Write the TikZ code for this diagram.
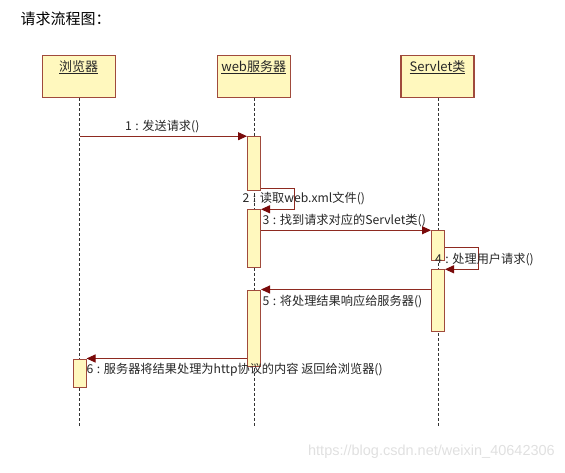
\documentclass[tikz,border=0pt]{standalone}
\usepackage{fontspec}
\setmainfont{Noto Sans CJK SC}
\newfontfamily\wmfont{Liberation Sans}
\usetikzlibrary{arrows.meta}
\definecolor{boxfill}{HTML}{FFF8BE}
\definecolor{boxline}{HTML}{A04A3C}
\definecolor{msgcol}{HTML}{8E2A20}
\definecolor{tipcol}{HTML}{7A0A0A}
\newcommand{\sepc}{\hspace{3.5pt}:\hspace{3.5pt}}
\begin{document}
\begin{tikzpicture}[x=1pt,y=-1pt,
  headbox/.style={draw=boxline, fill=boxfill, line width=1.2pt, minimum width=73pt, minimum height=41.6pt, inner sep=0pt},
  actbox/.style={draw=boxline, fill=boxfill, line width=1pt, minimum width=13pt, inner sep=0pt},
  lifeline/.style={draw=black!80, line width=0.9pt, dash pattern=on 3pt off 2pt},
  msg/.style={draw=msgcol, line width=1pt, -{Triangle[length=9pt,width=8pt,fill=tipcol,color=tipcol]}},
  lbl/.style={font=\fontsize{12.2}{14}\selectfont, inner sep=0pt, text=black!85, anchor=west},
  hlbl/.style={font=\fontsize{13}{15}\selectfont, inner sep=0pt, text=black!85},
  wm/.style={font=\wmfont\fontsize{14.5}{16}\selectfont, text=black!12, inner sep=0pt}
]
\useasboundingbox (0,0) rectangle (565,472);

% title
\node[font=\fontsize{15}{17}\selectfont, anchor=west, inner sep=0pt] (title) at (20.5,19) {请求流程图：};

% heads
\node[headbox] (h1) at (78.7,76.5) {};
\node[headbox] (h2) at (253.7,76.5) {};
\node[headbox] (h3) at (437.5,76.5) {};
\node[hlbl] (h1t) at ([yshift=-12pt]h1.north) {\underline{浏览器}};
\node[hlbl] (h2t) at ([yshift=-12pt]h2.north) {\underline{web服务器}};
\node[hlbl] (h3t) at ([yshift=-12pt]h3.north) {\underline{Servlet类}};

\coordinate (bottom) at (0,427);

% lifelines
\draw[lifeline] ([xshift=0.8pt]h1.south) -- ([xshift=0.8pt]h1.south |- bottom);
\draw[lifeline] ([xshift=0.8pt]h2.south) -- ([xshift=0.8pt]h2.south |- bottom);
\draw[lifeline] ([xshift=0.8pt]h3.south) -- ([xshift=0.8pt]h3.south |- bottom);

% activation boxes
\node[actbox, minimum height=54pt]   (a1) at (254,163.7) {};
\node[actbox, minimum height=58pt]   (a2) at (254,238.3) {};
\node[actbox, minimum height=29.3pt] (a3) at (438,245.4) {};
\node[actbox, minimum height=62.4pt] (a4) at (438,300.5) {};
\node[actbox, minimum height=76pt]   (a5) at (254,328) {};
\node[actbox, minimum height=28pt]   (a6) at (79.5,373) {};

% messages
\draw[msg] ([xshift=0.8pt]h1.south |- a1.north west) -- (a1.north west);
\draw[msg] ([yshift=2.7pt]a1.south east) -- ++(33,0) |- ([yshift=-0.5pt]a2.north east);
\draw[msg] (a2.east |- a3.north west) -- (a3.north west);
\draw[msg] (a3.east |- 0,247.3) -- ++(33.4,0) |- ([yshift=-0.5pt]a4.north east);
\draw[msg] (a4.west |- a5.north east) -- (a5.north east);
\draw[msg] (a5.west |- a6.north east) -- (a6.north east);

% labels
\node[lbl] (l1) at (125,127) {1\sepc 发送请求()};
\node[lbl] (l2) at (242.5,199) {2\sepc 读取web.xml文件()};
\node[lbl] (l3) at (262.5,220.7) {3\sepc 找到请求对应的Servlet类()};
\node[lbl] (l4) at (435,259.3) {4\sepc 处理用户请求()};
\node[lbl] (l5) at (262.5,301.7) {5\sepc 将处理结果响应给服务器()};
\node[lbl] (l6) at (86.5,370) {6\sepc 服务器将结果处理为http协议的内容 返回给浏览器()};

% watermark
\node[wm, anchor=east] (wmk) at (555,452) {https://blog.csdn.net/weixin\_40642306};
\end{tikzpicture}
\end{document}
